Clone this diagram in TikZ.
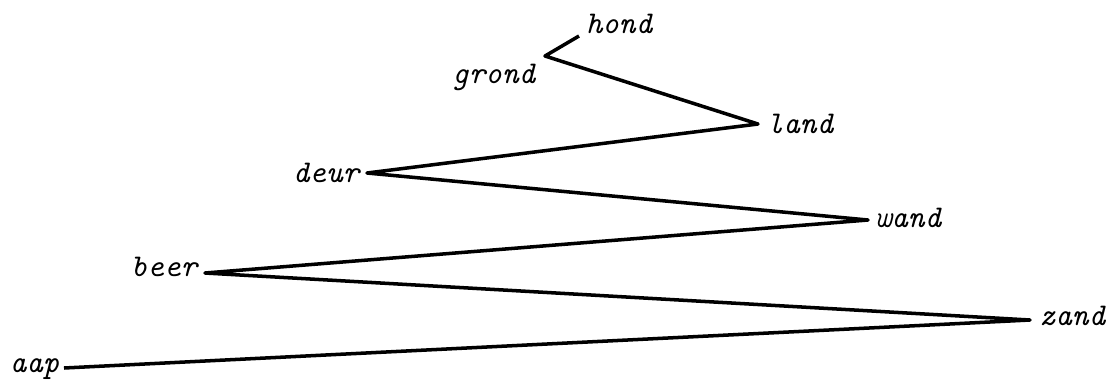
\documentclass[tikz,border=0pt]{standalone}
\usepackage{tikz}

\begin{document}
\begin{tikzpicture}[x=0.01cm, y=-0.01cm, line width=1pt, line join=round,
    palabra/.style={font=\fontsize{9}{10}\selectfont\ttfamily\itshape, inner sep=0pt}]
  \useasboundingbox (0,0) rectangle (1108,384);
  % vertices del zigzag
  \coordinate (aap) at (64,368);
  \coordinate (zand) at (1030,320);
  \coordinate (beer) at (205,273);
  \coordinate (wand) at (868,220);
  \coordinate (deur) at (367,173);
  \coordinate (land) at (758,124);
  \coordinate (grond) at (545,56);
  \coordinate (hond) at (579,36);
  % linea quebrada
  \draw (aap)--(zand)--(beer)--(wand)--(deur)--(land)--(grond)--(hond);
  % palabras a la izquierda
  \node[palabra, anchor=base west] (taap) at (8,372) {aap};
  \node[palabra, anchor=base east] (tbeer) at (199,276) {beer};
  \node[palabra, anchor=base east] (tdeur) at (361,182) {deur};
  \node[palabra, anchor=base east] (tgrond) at (537,83) {grond};
  % palabras a la derecha
  \node[palabra, anchor=base west] (tzand) at (1037,325) {zand};
  \node[palabra, anchor=base west] (twand) at (873,227) {wand};
  \node[palabra, anchor=base west] (tland) at (765,133) {land};
  \node[palabra, anchor=base west] (thond) at (584,33) {hond};
\end{tikzpicture}
\end{document}
